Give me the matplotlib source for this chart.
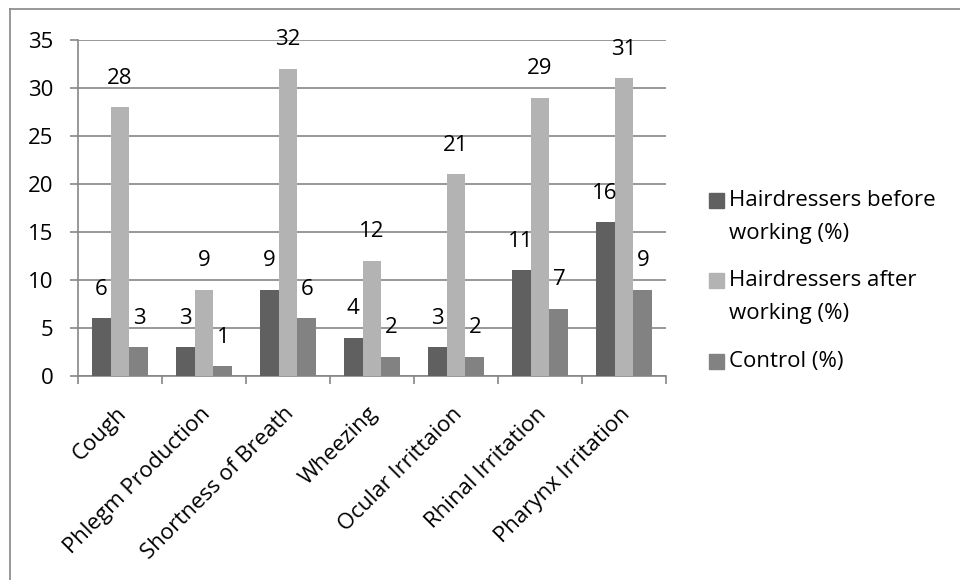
import matplotlib.pyplot as plt
import numpy as np
from matplotlib.lines import Line2D
from matplotlib.patches import Rectangle
from matplotlib.transforms import ScaledTranslation

plt.rcParams["font.family"] = ["Open Sans", "DejaVu Sans"]
plt.rcParams["font.size"] = 16

categories = [
    "Cough",
    "Phlegm Production",
    "Shortness of Breath",
    "Wheezing",
    "Ocular Irrittaion",
    "Rhinal Irritation",
    "Pharynx Irritation",
]
before_working = [6, 3, 9, 4, 3, 11, 16]
after_working = [28, 9, 32, 12, 21, 29, 31]
control = [3, 1, 6, 2, 2, 7, 9]

series_names = [
    "Hairdressers before\nworking (%)",
    "Hairdressers after\nworking (%)",
    "Control (%)",
]
series_colors = ["#606060", "#b3b3b3", "#828282"]
y_ticks = [0, 5, 10, 15, 20, 25, 30, 35]

GRID = "#868686"
W, H = 960, 580

fig = plt.figure(figsize=(9.6, 5.8), dpi=100)
ax = fig.add_axes([78 / W, 1 - 376 / H, (666 - 78) / W, (376 - 40) / H])

x = np.arange(len(categories)) + 0.5
bar_w = 0.225
for i, (vals, color) in enumerate(zip([before_working, after_working, control], series_colors)):
    pos = x + (i - 1) * bar_w
    ax.bar(pos, vals, width=bar_w, color=color, zorder=3)
    for px, v in zip(pos, vals):
        ax.annotate(str(v), (px, v), xytext=(0, 21), textcoords="offset points",
                    ha="center", va="center", zorder=4)

ax.set_xlim(0, len(categories))
ax.set_ylim(0, 35)
ax.set_yticks(y_ticks)
ax.yaxis.grid(True, color=GRID, linewidth=1.2, zorder=0)
ax.set_axisbelow(True)

ax.set_xticks(x)
ax.set_xticks(np.arange(len(categories) + 1), minor=True)
ax.set_xticklabels(categories, rotation=45, ha="right", va="center", rotation_mode="anchor")
ax.tick_params(axis="x", which="major", length=0, pad=25)
ax.tick_params(axis="x", which="minor", length=5.8, width=1.2, color=GRID)
ax.tick_params(axis="y", length=5.8, width=1.2, color=GRID, pad=12)
offset = ScaledTranslation(3 / 100, 0, fig.dpi_scale_trans)
for lbl in ax.get_xticklabels():
    lbl.set_transform(lbl.get_transform() + offset)

for side in ["top", "right"]:
    ax.spines[side].set_visible(False)
for side in ["left", "bottom"]:
    ax.spines[side].set_color(GRID)
    ax.spines[side].set_linewidth(1.2)

# legend drawn by hand so the marker sits on the first line like the original
legend_rows = [200, 280, 361]
for name, color, yc in zip(series_names, series_colors, legend_rows):
    fig.add_artist(Rectangle((709 / W, 1 - (yc + 7.5) / H), 15 / W, 15 / H,
                             transform=fig.transFigure, color=color))
    for j, line in enumerate(name.split("\n")):
        fig.text(729 / W, 1 - (yc + 34 * j) / H, line, va="center", ha="left")

# outer frame
fig.add_artist(Line2D([10 / W, 1], [1 - 9 / H] * 2, color=GRID, linewidth=1.2))
fig.add_artist(Line2D([10 / W] * 2, [0, 1 - 9 / H], color=GRID, linewidth=1.2))

fig.savefig("out.png", dpi=100)
